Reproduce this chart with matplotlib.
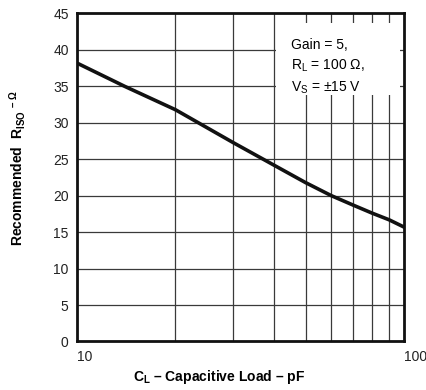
import matplotlib
matplotlib.use('Agg')
import matplotlib.pyplot as plt
from matplotlib.patches import Rectangle

# curve (pF -> ohms)
cap_load = [10, 14, 20, 30, 40, 50, 60, 70, 80, 90, 100]
r_iso = [38.2, 35.0, 31.8, 27.3, 24.2, 21.8, 20.0, 18.7, 17.6, 16.7, 15.7]

y_ticks = [0, 5, 10, 15, 20, 25, 30, 35, 40, 45]
x_minor = [20, 30, 40, 50, 60, 70, 80, 90]

plt.rcParams['font.family'] = ['Liberation Sans', 'DejaVu Sans']
plt.rcParams['mathtext.fontset'] = 'custom'
plt.rcParams['mathtext.rm'] = 'Liberation Sans'
plt.rcParams['mathtext.bf'] = 'Liberation Sans:bold'
plt.rcParams['mathtext.it'] = 'Liberation Sans:italic'

fig = plt.figure(figsize=(4.27, 3.9), dpi=100)
ax = fig.add_axes([0.1803, 0.1244, 0.7658, 0.841])

grid_col = '#3a3a3a'
ax.set_xscale('log')
ax.set_xlim(10, 100)
ax.set_ylim(0, 45)

for y in y_ticks[1:-1]:
    ax.axhline(y, color=grid_col, lw=0.9, zorder=1)
for x in x_minor:
    ax.axvline(x, color=grid_col, lw=0.9, zorder=1)

# white box behind the conditions text
ax.add_patch(Rectangle((0.61, 0.752), 0.378, 0.219, transform=ax.transAxes,
                       facecolor='white', edgecolor='none', zorder=2))
ax.text(0.655, 0.905, 'Gain = 5,', transform=ax.transAxes, fontsize=10,
        va='center', ha='left', zorder=3)
ax.text(0.655, 0.84, r'R$_\mathrm{L}$ = 100 Ω,', transform=ax.transAxes, fontsize=10,
        va='center', ha='left', zorder=3)
ax.text(0.655, 0.772, r'V$_\mathrm{S}$ = ±15 V', transform=ax.transAxes, fontsize=10,
        va='center', ha='left', zorder=3)

ax.plot(cap_load, r_iso, color='#111111', lw=2.6, zorder=4, solid_joinstyle='round')

for s in ax.spines.values():
    s.set_linewidth(2.0)
    s.set_color('#111111')
    s.set_zorder(5)

ax.set_yticks(y_ticks)
ax.set_yticklabels([str(v) for v in y_ticks])
ax.set_xticks([10, 100])
ax.set_xticklabels(['10', '100'])
ax.xaxis.set_minor_locator(matplotlib.ticker.NullLocator())
ax.tick_params(axis='both', length=0, labelsize=10, colors='#222222')
ax.tick_params(axis='x', pad=6)
ax.tick_params(axis='y', pad=6)
xl = ax.get_xticklabels()
xl[0].set_ha('left')
xl[1].set_ha('left')

fig.text(0.514, 0.022, r'$\mathbf{C_L}$ – Capacitive Load – pF', fontsize=10,
         fontweight='bold', ha='center', va='baseline')
fig.text(0.04, 0.57, r'Recommended  $\mathbf{R_{ISO}}\ \mathbf{{}^{–\ Ω}}$', fontsize=10,
         fontweight='bold', ha='center', va='center', rotation=90)

fig.savefig('out.png', dpi=100)
